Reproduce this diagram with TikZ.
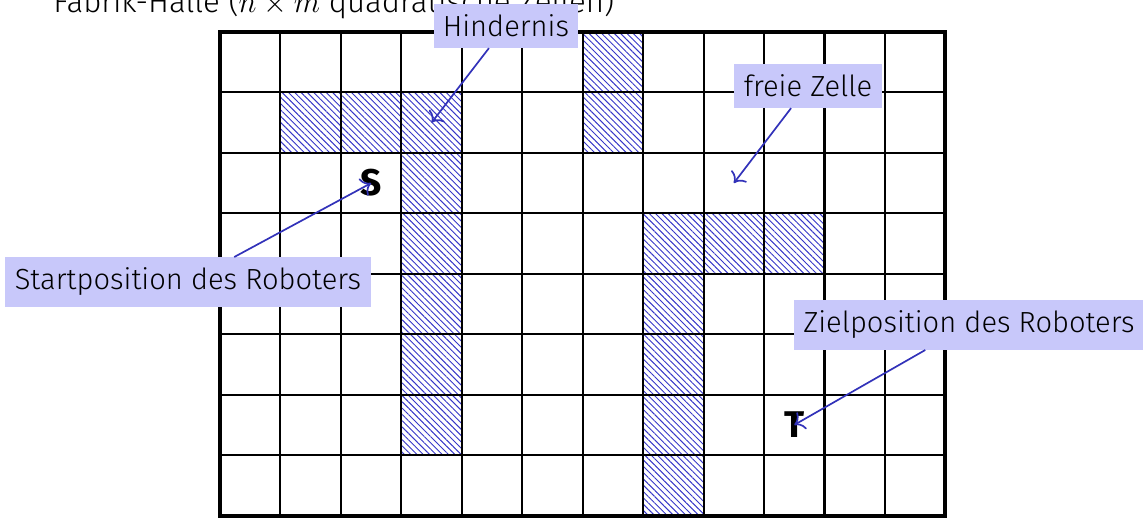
\documentclass[tikz,border=0pt]{standalone}
\usepackage{fontspec}
\setmainfont{Fira Sans Light}[BoldFont={Fira Sans Bold}]
\usetikzlibrary{patterns.meta,arrows.meta}
\definecolor{hatchblue}{RGB}{55,55,200}
\definecolor{lblfill}{RGB}{200,200,250}
\definecolor{arrblue}{RGB}{50,50,185}
\begin{document}
\begin{tikzpicture}[x=1cm,y=-1cm,
  hatchcell/.style={pattern={Lines[angle=-45,distance=2.1pt,line width=0.45pt]},pattern color=hatchblue},
  gridline/.style={line width=0.95pt,black},
  border/.style={line width=1.9pt,black},
  lbl/.style={fill=lblfill,inner xsep=4.4pt,inner ysep=5pt,font=\fontsize{13.7}{16}\selectfont,text=black},
  posmark/.style={inner sep=0pt,font=\fontsize{17.5}{20}\selectfont\bfseries},
  arr/.style={draw=arrblue,line width=0.8pt,-{To[scale=1.3]}},
  titlestyle/.style={anchor=base west,inner sep=0pt,font=\fontsize{14.7}{17}\selectfont}
]
\useasboundingbox (-3.639,-0.529) rectangle (15.269,8.024);
\clip (-3.639,-0.529) rectangle (15.269,8.024);
% title (cut at the top)
\node[titlestyle] (title) at (-2.763,-0.320) {Fabrik-Halle ($n\times m$ quadratische Zellen)};
% obstacles
\foreach \c/\r in {1/1,2/1,3/1,3/2,3/3,3/4,3/5,3/6,6/0,6/1,7/3,8/3,9/3,7/4,7/5,7/6,7/7}
  \fill[hatchcell] (\c,\r) rectangle ++(1,1);
% grid
\draw[gridline] (0,0) grid (12,8);
\draw[border] (0,0) rectangle (12,8);
% start and target
\node[posmark] (S) at (2.5,2.5) {S};
\node[posmark] (T) at (9.5,6.5) {T};
\coordinate (hcell) at (3.5,1.5);
\coordinate (fcell) at (8.5,2.5);
% labels
\node[lbl] (hind) at (4.731,-0.099) {Hindernis};
\node[lbl] (frei) at (9.727,0.893) {freie Zelle};
\node[lbl] (start) at (-0.529,4.136) {Startposition des Roboters};
\node[lbl] (ziel) at (12.39,4.847) {Zielposition des Roboters};
% arrows
\draw[arr] (hind) -- (hcell);
\draw[arr] (frei) -- (fcell);
\draw[arr] (start) -- (S.center);
\draw[arr] (ziel) -- (T.center);
\end{tikzpicture}
\end{document}
